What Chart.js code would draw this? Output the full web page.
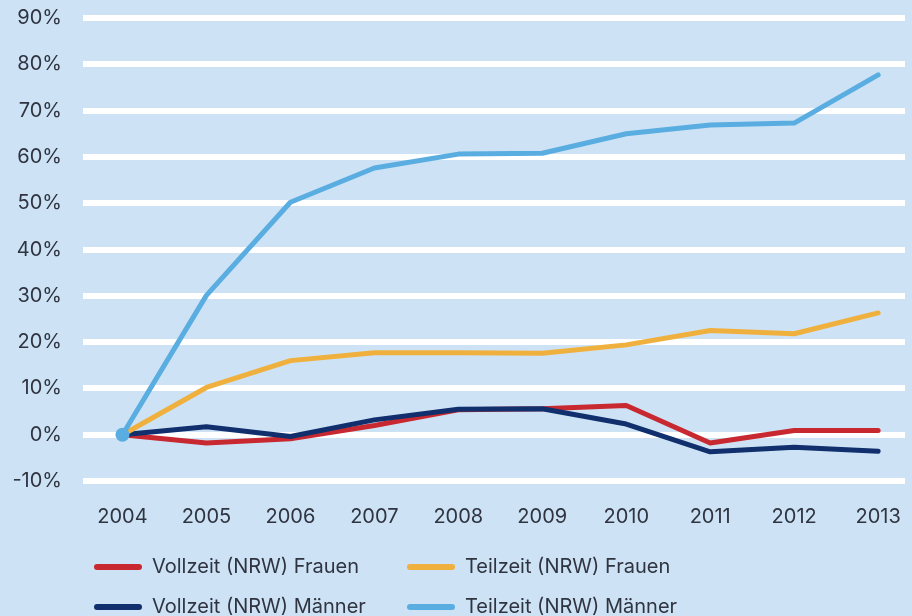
<!DOCTYPE html>
<html>
<head>
<meta charset="utf-8">
<script src="https://cdn.jsdelivr.net/npm/chart.js@4/dist/chart.umd.min.js"></script>
<style>
  html, body { margin: 0; padding: 0; background: #cde3f5; }
  #wrap { width: 912px; height: 616px; position: relative; }
</style>
</head>
<body>
<div id="wrap"><canvas id="myChart" width="912" height="616"></canvas></div>
<script>
// data (change in % since 2004)
const years = [2004, 2005, 2006, 2007, 2008, 2009, 2010, 2011, 2012, 2013];
const vollzeitFrauen = [0, -1.8, -0.9, 2.0, 5.4, 5.6, 6.3, -1.8, 0.9, 0.9];
const teilzeitFrauen = [0, 10.2, 16.0, 17.7, 17.7, 17.6, 19.4, 22.5, 21.8, 26.3];
const vollzeitMaenner = [0, 1.7, -0.4, 3.2, 5.5, 5.6, 2.3, -3.7, -2.7, -3.6];
const teilzeitMaenner = [0, 30.1, 50.2, 57.6, 60.6, 60.8, 65.0, 66.9, 67.3, 77.7];
const yTicks = [-10, 0, 10, 20, 30, 40, 50, 60, 70, 80, 90];

const textColor = '#2f3440';
const fontName = 'Inter';

// legend drawn by hand, two columns like the original
const legendPlugin = {
  id: 'twoColLegend',
  afterDraw(chart) {
    const ctx = chart.ctx;
    const items = [
      { ds: 0, x: 97, y: 567 },
      { ds: 2, x: 410, y: 567 },
      { ds: 1, x: 97, y: 607 },
      { ds: 3, x: 410, y: 607 }
    ];
    ctx.save();
    ctx.font = '20px ' + fontName;
    ctx.textBaseline = 'middle';
    items.forEach(it => {
      const d = chart.data.datasets[it.ds];
      ctx.strokeStyle = d.borderColor;
      ctx.lineWidth = 6;
      ctx.lineCap = 'round';
      ctx.beginPath();
      ctx.moveTo(it.x, it.y);
      ctx.lineTo(it.x + 42, it.y);
      ctx.stroke();
      ctx.fillStyle = textColor;
      ctx.fillText(d.label, it.x + 55, it.y);
    });
    ctx.restore();
  }
};

const ctx = document.getElementById('myChart');
new Chart(ctx, {
  type: 'line',
  data: {
    labels: years,
    datasets: [
      {
        label: 'Vollzeit (NRW) Frauen',
        data: vollzeitFrauen,
        borderColor: '#c8282f',
        order: 3
      },
      {
        label: 'Vollzeit (NRW) Männer',
        data: vollzeitMaenner,
        borderColor: '#102f6c',
        order: 2
      },
      {
        label: 'Teilzeit (NRW) Frauen',
        data: teilzeitFrauen,
        borderColor: '#f0b03e',
        order: 1
      },
      {
        label: 'Teilzeit (NRW) Männer',
        data: teilzeitMaenner,
        borderColor: '#5aade0',
        backgroundColor: '#5aade0',
        pointRadius: years.map((y, i) => i === 0 ? 7 : 0),
        order: 0
      }
    ]
  },
  options: {
    responsive: false,
    animation: false,
    elements: {
      line: { borderWidth: 5, tension: 0, borderJoinStyle: 'round', borderCapStyle: 'round' },
      point: { radius: 0, hoverRadius: 0, borderWidth: 0 }
    },
    layout: {
      padding: { top: 0, right: 0, bottom: 63, left: 0 }
    },
    plugins: {
      legend: { display: false },
      tooltip: { enabled: false },
      title: { display: false }
    },
    scales: {
      x: {
        type: 'linear',
        min: 2003.53,
        max: 2013.32,
        afterFit: s => { s.paddingLeft = 0; s.paddingRight = 0; },
        grid: { display: false, drawTicks: false },
        border: { display: false },
        ticks: {
          stepSize: 1,
          includeBounds: false,
          color: textColor,
          padding: 24,
          maxRotation: 0,
          font: { family: fontName, size: 20 },
          callback: v => String(v)
        }
      },
      y: {
        min: -10,
        max: 90,
        afterFit: s => { s.width = 83; s.paddingTop = 18; s.paddingBottom = 12; },
        afterBuildTicks: s => { s.ticks = yTicks.map(v => ({ value: v })); },
        grid: { color: '#ffffff', lineWidth: 6, drawTicks: false },
        border: { display: false },
        ticks: {
          color: textColor,
          padding: 21,
          font: { family: fontName, size: 20 },
          callback: v => v + '%'
        }
      }
    }
  },
  plugins: [legendPlugin]
});
</script>
</body>
</html>
